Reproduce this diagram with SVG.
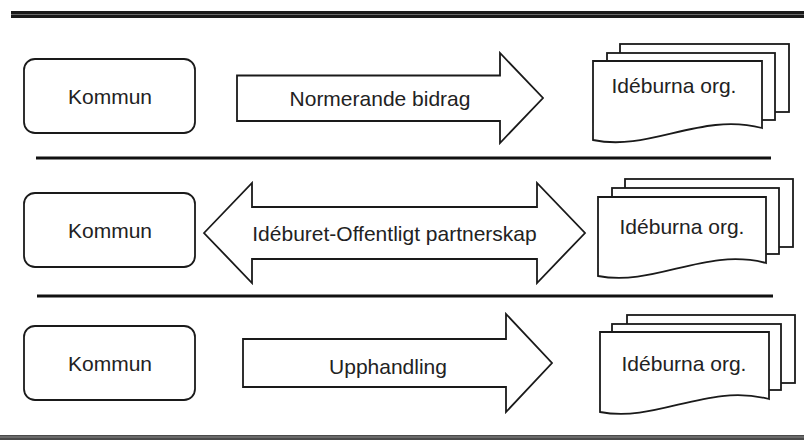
<svg xmlns="http://www.w3.org/2000/svg" width="804" height="440" viewBox="0 0 804 440">
<style>
.shape{fill:#fff;stroke:#1a1a1a;stroke-width:1.8;stroke-linejoin:miter}
.sep{stroke:#111;stroke-width:3}
.lbl{font-family:"Liberation Sans",Arial,sans-serif;font-size:21px;fill:#222;text-anchor:middle}
</style>
<rect width="804" height="440" fill="#fff"/>
<g id="rules">
<rect x="11" y="11" width="793" height="7" fill="#1a1a1a"/>
<line x1="11" y1="14.5" x2="804" y2="14.5" stroke="#6a6a6a" stroke-width="1.2"/>
<line class="sep" x1="36" y1="158" x2="771" y2="158"/>
<line class="sep" x1="37" y1="296" x2="773" y2="296"/>
<rect x="0" y="435" width="804" height="5" fill="#4a4a4a"/>
<line x1="0" y1="437" x2="804" y2="437" stroke="#8a8a8a" stroke-width="1"/>
</g>
<g id="kommun1"><rect class="shape" x="24" y="59" width="171" height="74" rx="11"/><text class="lbl" x="110" y="104">Kommun</text></g>
<g id="kommun2"><rect class="shape" x="24" y="193" width="171" height="74" rx="11"/><text class="lbl" x="110" y="238">Kommun</text></g>
<g id="kommun3"><rect class="shape" x="24" y="326" width="171" height="74" rx="11"/><text class="lbl" x="110" y="371">Kommun</text></g>
<g id="org1">
<rect class="shape" x="620" y="44" width="169" height="68"/>
<rect class="shape" x="607" y="53" width="168" height="67"/>
<path class="shape" d="M593 61 H762 V128 C700 112 650 152 593 140 Z"/>
<text class="lbl" x="674" y="93">Idéburna org.</text>
</g>
<g id="org2">
<rect class="shape" x="625" y="179" width="168" height="68"/>
<rect class="shape" x="612" y="188" width="167" height="66"/>
<path class="shape" d="M598 197 H766 V263 C705 247 655 287 598 276 Z"/>
<text class="lbl" x="682" y="234">Idéburna org.</text>
</g>
<g id="org3">
<rect class="shape" x="627" y="315" width="168" height="68"/>
<rect class="shape" x="612" y="324" width="169" height="66"/>
<path class="shape" d="M600 332 H769 V399 C707 383 657 423 600 412 Z"/>
<text class="lbl" x="684" y="371">Idéburna org.</text>
</g>
<g id="connectors">
<g id="arrow1"><polygon class="shape" points="237,75.5 500,75.5 500,53 543,98 500,143 500,121 237,121"/><text class="lbl" x="380" y="106">Normerande bidrag</text></g>
<g id="arrow2"><polygon class="shape" points="204,233 252,183 252,207 537,207 537,183 585,233 537,283 537,259 252,259 252,283"/><text class="lbl" x="394.5" y="241">Idéburet-Offentligt partnerskap</text></g>
<g id="arrow3"><polygon class="shape" points="243,339 506,339 506,314 552,363 506,412 506,387 243,387"/><text class="lbl" x="388" y="374">Upphandling</text></g>
</g>
</svg>
